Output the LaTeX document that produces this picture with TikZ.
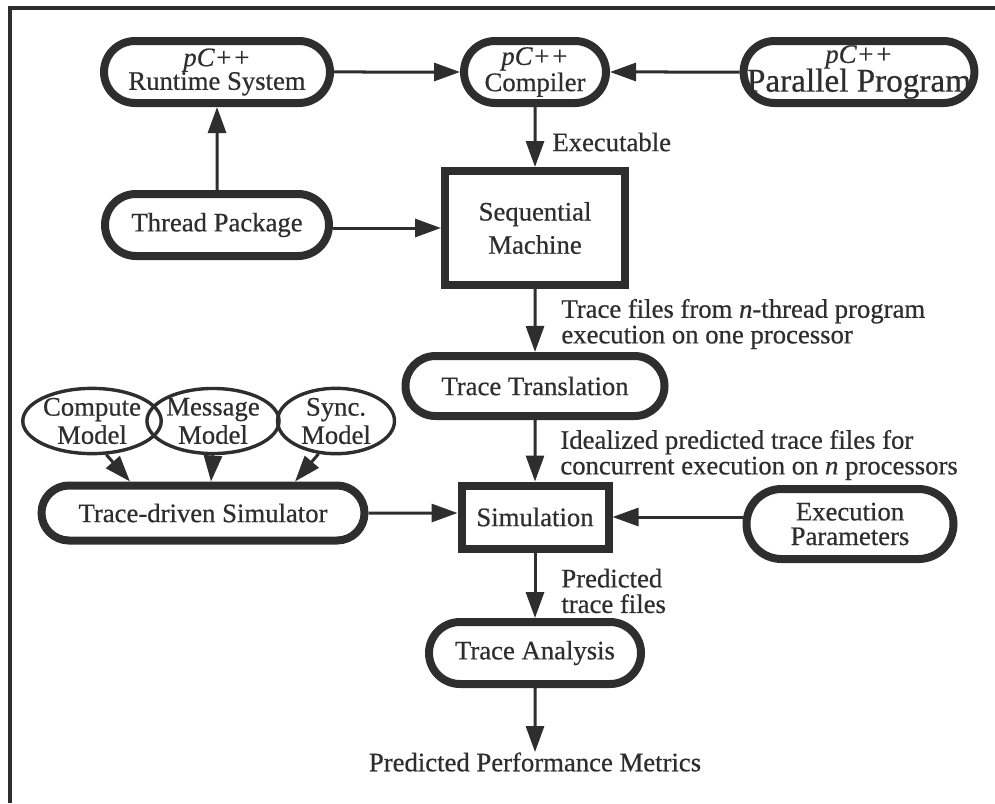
\documentclass[tikz,border=0pt]{standalone}
\usepackage{fontspec}
\setmainfont{Liberation Serif}[FakeBold=0.6]
\usetikzlibrary{shapes.misc,shapes.geometric,arrows.meta,calc}
\definecolor{ink}{HTML}{2E2E2E}

\begin{document}
\begin{tikzpicture}[x=0.5pt,y=-0.5pt,
  every node/.style={text=ink, font=\fontsize{13.35}{11.8}\selectfont},
  stadium/.style={draw=ink, line width=4pt, rounded rectangle, inner sep=0pt, align=center},
  machine/.style={draw=ink, line width=4pt, rectangle, inner sep=0pt, align=center},
  model/.style={draw=ink, line width=1.7pt, ellipse, inner sep=0pt, align=center,
                minimum width=56.5pt, minimum height=29pt},
  flow/.style={draw=ink, line width=1.5pt, -{Triangle[length=13pt,width=9pt]}},
  note/.style={anchor=west, align=left, inner sep=0pt,
               font=\fontsize{13.35}{12.8}\selectfont}
]
\useasboundingbox (0,0) rectangle (995,803);

% frame: top and left rules only
\draw[ink, line width=2pt] (10,803) -- (10,8) -- (995,8);

% top row
\node[stadium, minimum width=113pt, minimum height=31pt] (rts) at (217,72)
  {\textit{pC++}\\Runtime System};
\node[stadium, minimum width=71pt, minimum height=31pt] (comp) at (535,72)
  {\textit{pC++}\\Compiler};
\node[stadium, minimum width=112pt, minimum height=31pt] (ppg) at (859,72)
  {\textit{pC++}\\[-1pt]{\fontsize{16.6}{16}\selectfont\makebox[100pt][c]{Parallel Program}}};

% machine stage
\node[stadium, minimum width=112pt, minimum height=31pt] (thr) at (217,225) {Thread Package};
\node[machine, minimum width=90pt, minimum height=57pt] (seq) at (535,228)
  {Sequential\\[3.5pt]Machine};

% translation
\node[stadium, minimum width=129.5pt, minimum height=30pt] (tt) at (535,386) {Trace Translation};

% simulator models
\node[model] (cm) at (92,421) {Compute\\[1pt]Model};
\node[model] (mm) at (213,421) {Message\\[1pt]Model};
\node[model, minimum width=58.5pt] (sm) at (336,421) {Sync.\\[1pt]Model};
\node[stadium, minimum width=161.5pt, minimum height=27.5pt] (tds) at (203,513) {Trace-driven Simulator};

% simulation
\node[machine, minimum width=73.5pt, minimum height=31.5pt] (sim) at (535,517) {Simulation};
\node[stadium, minimum width=103.5pt, minimum height=35pt] (ep) at (850,524)
  {Execution\\[0.5pt]Parameters};

% analysis
\node[stadium, minimum width=106pt, minimum height=31pt] (ta) at (535,653) {Trace Analysis};
\node[inner sep=0pt] (ppm) at (535,762) {Predicted Performance Metrics};

% connectors
\draw[flow] (rts) -- (comp);
\draw[flow] (ppg) -- (comp);
\draw[flow] (thr) -- (rts);
\draw[flow] (thr.east |- seq) -- (seq);
\draw[flow] (comp) -- (seq);
\draw[flow] (seq) -- (tt);
\draw[flow] (tt) -- (sim);
\draw[flow] (cm.-67) -- ($(tds.north)+(-73,0)$);
\draw[flow] (mm.south) -- ($(tds.north)+(8,0)$);
\draw[flow] (sm.-118) -- ($(tds.north)+(92,0)$);
\draw[flow] (tds) -- (tds -| sim.west);
\draw[flow] (ep.west |- sim) -- (sim);
\draw[flow] (sim) -- (ta);
\draw[flow] (ta) -- (ppm);

% connector notes
\node[note] (lexe) at (552,142) {Executable};
\node[note] (ltrace) at (561,324) {Trace files from \textit{n}-thread program\\execution on one processor};
\node[note] (lideal) at (560,455) {Idealized predicted trace files for\\concurrent execution on \textit{n} processors};
\node[note] (lpred) at (561,591) {Predicted\\trace files};
\end{tikzpicture}
\end{document}
